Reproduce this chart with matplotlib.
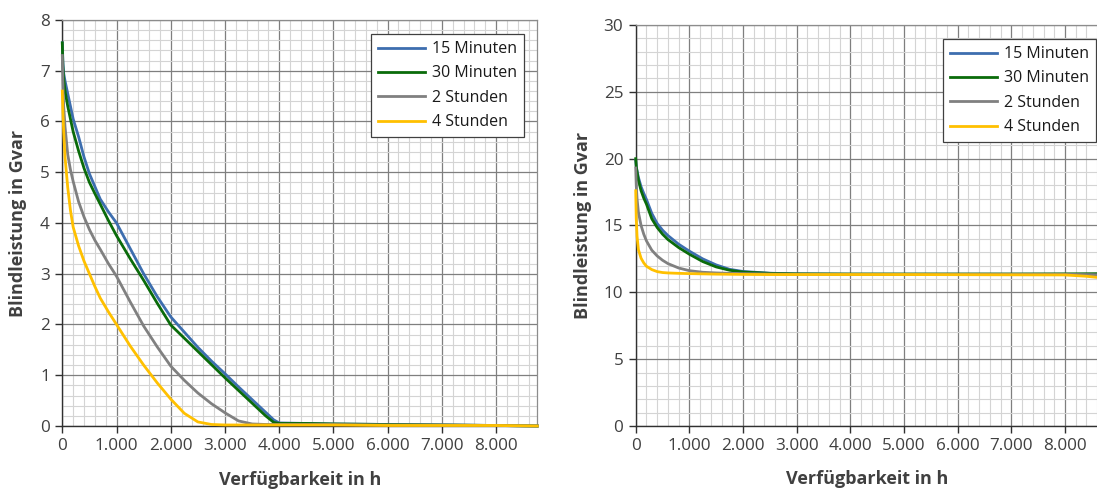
import matplotlib
matplotlib.use("Agg")
import matplotlib.pyplot as plt
from matplotlib.ticker import FuncFormatter, MultipleLocator

plt.rcParams['font.family'] = ['Open Sans', 'DejaVu Sans']

labels = ["15 Minuten", "30 Minuten", "2 Stunden", "4 Stunden"]
colors = ["#3D6EAF", "#0A6B0A", "#808080", "#FFC000"]

# linkes Diagramm: Blindleistung ueber Verfuegbarkeit (h)
hours_left = [0, 10, 25, 50, 100, 150, 200, 300, 400, 500, 600, 700, 850, 1000,
              1250, 1500, 1750, 2000, 2250, 2500, 2750, 3000, 3250, 3500, 3750,
              3900, 4000, 4500, 5000, 6000, 7000, 8000, 8760]
q15_left = [7.55, 7.20, 6.95, 6.80, 6.55, 6.30, 6.05, 5.70, 5.30, 4.97, 4.72, 4.47, 4.22, 4.00,
            3.50, 3.00, 2.55, 2.15, 1.85, 1.55, 1.28, 1.03, 0.77, 0.52, 0.27,
            0.12, 0.06, 0.05, 0.04, 0.03, 0.02, 0.01, 0.00]
q30_left = [7.55, 7.10, 6.85, 6.60, 6.30, 6.05, 5.80, 5.42, 5.08, 4.80, 4.58, 4.37, 4.05, 3.75,
            3.30, 2.87, 2.42, 1.99, 1.73, 1.47, 1.21, 0.95, 0.70, 0.45, 0.20,
            0.07, 0.05, 0.05, 0.04, 0.03, 0.02, 0.01, 0.00]
q2h_left = [7.30, 6.80, 6.30, 5.90, 5.35, 5.05, 4.82, 4.42, 4.12, 3.87, 3.66, 3.48, 3.20, 2.95,
            2.45, 1.97, 1.56, 1.18, 0.90, 0.65, 0.44, 0.26, 0.10, 0.04, 0.03,
            0.03, 0.03, 0.03, 0.03, 0.02, 0.02, 0.01, 0.00]
q4h_left = [6.60, 6.20, 5.80, 5.30, 4.70, 4.25, 3.92, 3.55, 3.25, 3.00, 2.75, 2.52, 2.25, 2.00,
            1.58, 1.20, 0.85, 0.53, 0.25, 0.08, 0.03, 0.02, 0.02, 0.02, 0.02,
            0.02, 0.02, 0.02, 0.02, 0.01, 0.01, 0.01, 0.00]

# rechtes Diagramm
hours_right = [0, 10, 25, 50, 100, 150, 200, 300, 400, 500, 600, 800, 1000, 1250,
               1500, 1750, 2000, 2500, 3000, 4000, 5000, 6000, 7000, 8000, 8400, 8760]
q15_right = [19.9, 19.4, 19.1, 18.6, 17.9, 17.4, 16.95, 15.9, 15.15, 14.65, 14.25, 13.6, 13.08, 12.5,
             12.05, 11.72, 11.56, 11.43, 11.38, 11.35, 11.35, 11.35, 11.35, 11.35, 11.33, 11.3]
q30_right = [20.0, 19.4, 19.0, 18.4, 17.6, 17.05, 16.6, 15.5, 14.85, 14.35, 13.95, 13.35, 12.85, 12.3,
             11.9, 11.65, 11.52, 11.42, 11.38, 11.37, 11.37, 11.37, 11.37, 11.38, 11.39, 11.4]
q2h_right = [19.3, 18.0, 17.0, 16.0, 15.0, 14.35, 13.85, 13.15, 12.72, 12.4, 12.15, 11.82, 11.62, 11.5,
             11.45, 11.42, 11.4, 11.37, 11.35, 11.35, 11.35, 11.35, 11.35, 11.35, 11.33, 11.3]
q4h_right = [17.6, 15.5, 14.2, 13.2, 12.55, 12.2, 11.95, 11.7, 11.55, 11.48, 11.45, 11.42, 11.4, 11.38,
             11.36, 11.35, 11.34, 11.33, 11.33, 11.33, 11.33, 11.32, 11.31, 11.3, 11.2, 11.05]

text_col = "#404040"


def thousands(x, pos):
    return '{:,.0f}'.format(x).replace(',', '.')


def style_axis(ax, ymax, ymajor):
    ax.set_xlim(0, 8760)
    ax.set_ylim(0, ymax)
    ax.xaxis.set_major_locator(MultipleLocator(1000))
    ax.xaxis.set_minor_locator(MultipleLocator(200))
    ax.yaxis.set_major_locator(MultipleLocator(ymajor))
    ax.yaxis.set_minor_locator(MultipleLocator(ymajor / 5))
    ax.xaxis.set_major_formatter(FuncFormatter(thousands))
    ax.grid(which='major', color='#7F7F7F', lw=0.9)
    ax.grid(which='minor', color='#D4D4D4', lw=0.8)
    ax.set_axisbelow(True)
    for s in ['top', 'right']:
        ax.spines[s].set_color('#8C8C8C')
        ax.spines[s].set_linewidth(0.9)
    for s in ['left', 'bottom']:
        ax.spines[s].set_color('#303030')
        ax.spines[s].set_linewidth(1.0)
    ax.tick_params(which='major', length=5, width=1, color='#303030',
                   labelsize=12.3, labelcolor=text_col, pad=4)
    ax.tick_params(which='minor', length=0)
    ax.set_xlabel("Verfügbarkeit in h", fontsize=13, fontweight='bold', color=text_col)
    ax.set_ylabel("Blindleistung in Gvar", fontsize=13, fontweight='bold', color=text_col)


fig = plt.figure(figsize=(10.97, 4.91), dpi=100)
ax1 = fig.add_axes([0.0568, 0.1324, 0.433, 0.8269])
ax2 = fig.add_axes([0.5795, 0.1324, 0.4285, 0.8167])

for ax, hrs, series in [(ax1, hours_left, [q15_left, q30_left, q2h_left, q4h_left]),
                        (ax2, hours_right, [q15_right, q30_right, q2h_right, q4h_right])]:
    for vals, lab, col in zip(series, labels, colors):
        ax.plot(hrs, vals, color=col, lw=2.0, label=lab, clip_on=False, zorder=3)

style_axis(ax1, 8, 1)
style_axis(ax2, 30, 5)

ax1.xaxis.set_label_coords(0.5, -0.11)
ax2.xaxis.set_label_coords(0.5 * 462 / 470, -0.11)
ax1.yaxis.set_label_coords(-0.075, 0.5)
ax2.yaxis.set_label_coords(-0.094, 0.5)

leg_kw = dict(loc='upper right', borderaxespad=0, fontsize=11.5, handlelength=2.9,
              labelspacing=0.52, fancybox=False, framealpha=1, borderpad=0.45,
              handletextpad=0.45)
leg1 = ax1.legend(bbox_to_anchor=(0.972, 0.9655), **leg_kw)
leg2 = ax2.legend(bbox_to_anchor=(1096 / 1097, (491 - 39) / 491),
                  bbox_transform=fig.transFigure, **leg_kw)
for leg in (leg1, leg2):
    leg.get_frame().set_edgecolor('#404040')
    leg.get_frame().set_linewidth(0.9)
    for t in leg.get_texts():
        t.set_color('#1A1A1A')

fig.savefig("out.png", dpi=100)
